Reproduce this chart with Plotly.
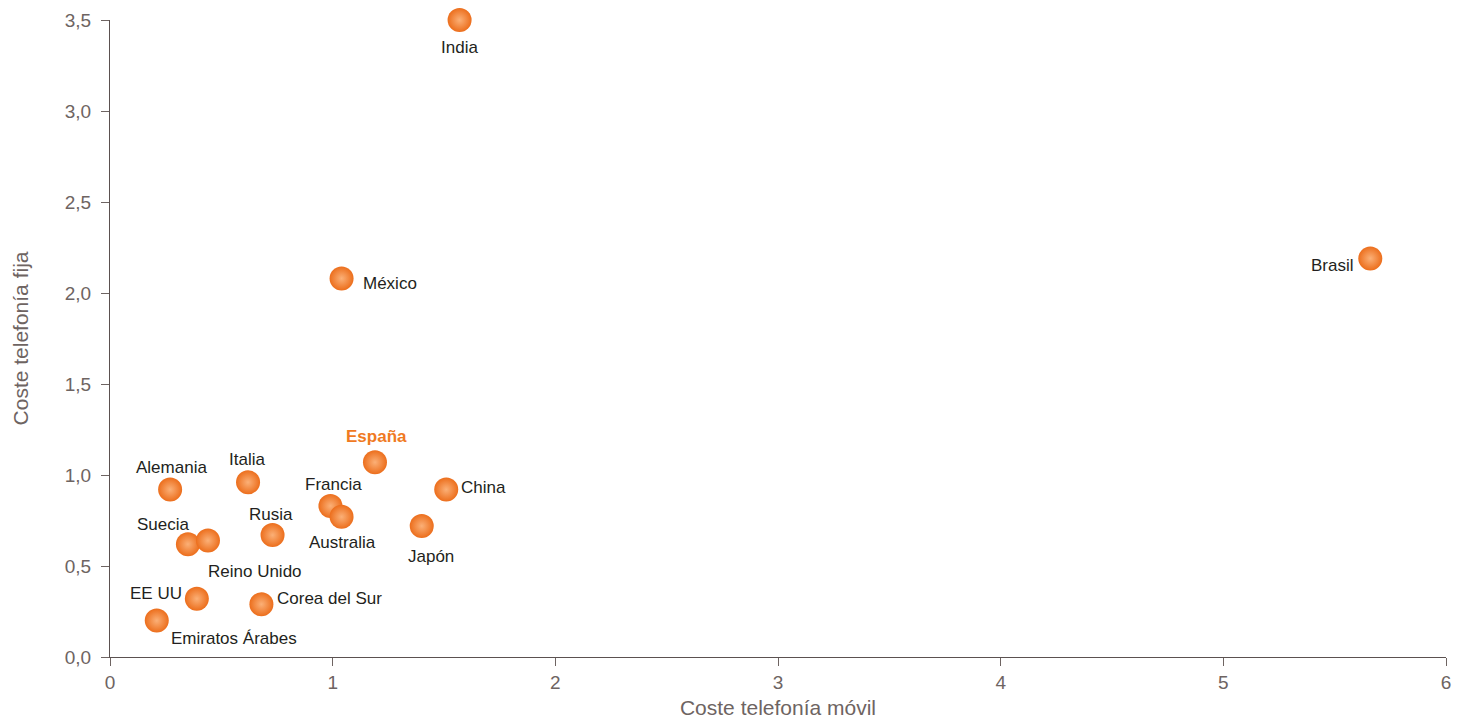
import plotly.graph_objects as go

# Coste de telefonía por país (índice)
paises = ["India", "México", "Brasil", "España", "Alemania", "Italia", "Francia",
          "Australia", "China", "Japón", "Rusia", "Suecia", "Reino Unido",
          "EE UU", "Corea del Sur", "Emiratos Árabes"]
coste_movil = [1.57, 1.04, 5.66, 1.19, 0.27, 0.62, 0.99,
               1.04, 1.51, 1.40, 0.73, 0.35, 0.44,
               0.39, 0.68, 0.21]
coste_fija = [3.50, 2.08, 2.19, 1.07, 0.92, 0.96, 0.83,
              0.77, 0.92, 0.72, 0.67, 0.62, 0.64,
              0.32, 0.29, 0.20]

# Colocación de cada etiqueta respecto a su punto: (xanchor, yanchor, xshift, yshift)
posiciones = {
    "India": ("center", "top", 0, -16),
    "México": ("left", "middle", 19, -5),
    "Brasil": ("right", "middle", -14, -7),
    "España": ("center", "bottom", 2, 14),
    "Alemania": ("center", "bottom", 1, 11),
    "Italia": ("center", "bottom", -1, 11),
    "Francia": ("center", "bottom", 3, 10),
    "Australia": ("center", "top", 1, -14),
    "China": ("left", "middle", 13, 2),
    "Japón": ("center", "top", 9, -19),
    "Rusia": ("center", "bottom", -2, 9),
    "Suecia": ("center", "bottom", -24, 8),
    "Reino Unido": ("center", "top", 47, -19),
    "EE UU": ("right", "middle", -13, 5),
    "Corea del Sur": ("left", "middle", 14, 6),
    "Emiratos Árabes": ("left", "top", 12, -6),
}

NARANJA = "#f07a22"
TEXTO = "#231f20"
GRIS = "#6e6462"
EJE = "#5b5150"
FUENTE = "Liberation Sans, Arial, Helvetica, sans-serif"

fig = go.Figure()
fig.add_trace(go.Scatter(
    x=coste_movil, y=coste_fija, mode="markers",
    marker=dict(size=24, color="#ec6e1c",
                gradient=dict(type="radial", color="#fbb077"),
                line=dict(width=0)),
    cliponaxis=False, hoverinfo="text", text=paises,
))

for nombre, xm, yf in zip(paises, coste_movil, coste_fija):
    xa, ya, dx, dy = posiciones[nombre]
    es_espana = nombre == "España"
    fig.add_annotation(
        x=xm, y=yf, text=f"<b>{nombre}</b>" if es_espana else nombre,
        showarrow=False, xanchor=xa, yanchor=ya, xshift=dx, yshift=dy,
        font=dict(family=FUENTE, size=17, color=NARANJA if es_espana else TEXTO),
    )

fig.update_layout(
    width=1463, height=719,
    margin=dict(l=110, r=17, t=20, b=62),
    paper_bgcolor="white", plot_bgcolor="white",
    separators=",.",
    showlegend=False,
    font=dict(family=FUENTE, color=GRIS),
)
fig.update_xaxes(
    range=[0, 6], tickvals=[0, 1, 2, 3, 4, 5, 6], automargin=False,
    showgrid=False, zeroline=False, showline=True, linecolor=EJE, linewidth=1.3,
    ticks="outside", ticklen=8, tickcolor=GRIS, tickwidth=1,
    tickfont=dict(family=FUENTE, size=19, color=GRIS),
    title=dict(text="Coste telefonía móvil", standoff=9,
               font=dict(family=FUENTE, size=21, color=GRIS)),
)
fig.update_yaxes(
    range=[0, 3.5], tickvals=[0, 0.5, 1, 1.5, 2, 2.5, 3, 3.5], tickformat=".1f",
    automargin=False,
    showgrid=False, zeroline=False, showline=True, linecolor=EJE, linewidth=1.3,
    ticks="outside", ticklen=8, tickcolor=GRIS, tickwidth=1,
    ticklabelstandoff=6,
    tickfont=dict(family=FUENTE, size=19, color=GRIS),
    title=dict(text="Coste telefonía fija", standoff=30,
               font=dict(family=FUENTE, size=21, color=GRIS)),
)

fig.write_html("out.html")
